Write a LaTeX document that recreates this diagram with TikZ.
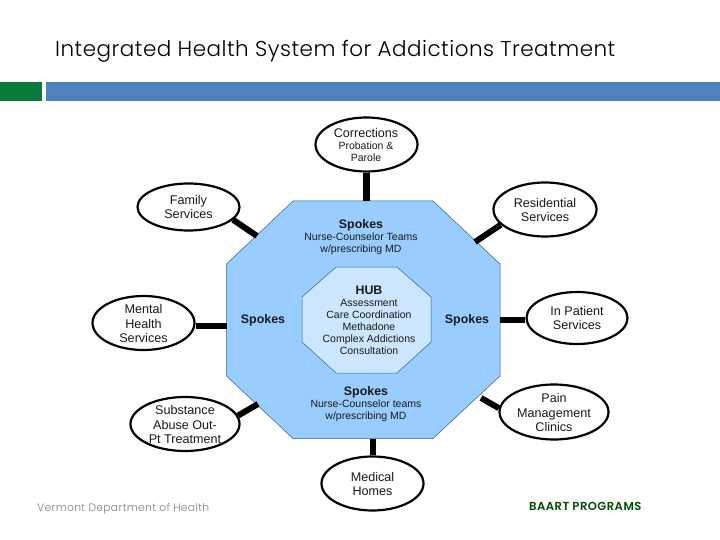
\documentclass[tikz,border=0pt]{standalone}
\usepackage{fontspec}
\setmainfont{Liberation Sans}
\newfontfamily\titlefont[LetterSpace=2.2]{Poppins Light}
\newfontfamily\footfont[LetterSpace=2.6]{Poppins Light}
\newfontfamily\boldfoot[LetterSpace=4]{Poppins SemiBold}
\usetikzlibrary{shapes.geometric}
\definecolor{barblue}{HTML}{4F81BD}
\definecolor{bargreen}{HTML}{0A7A3C}
\definecolor{outerfill}{HTML}{99CCFF}
\definecolor{innerfill}{HTML}{CCE6FF}
\definecolor{edgeblue}{HTML}{2F5F8F}
\definecolor{txt}{HTML}{1A1A1A}
\tikzset{
  svc/.style={ellipse,draw=black,line width=2.2pt,fill=white,inner sep=0pt},
  svctext/.style={align=center,inner sep=0pt,text=txt,font=\fontsize{12.6}{14.4}\selectfont},
  small/.style={align=center,inner sep=0pt,text=txt,font=\fontsize{10.5}{12}\selectfont},
  head/.style={align=center,inner sep=0pt,text=txt,font=\fontsize{12.4}{13}\selectfont\bfseries},
  link/.style={draw=black,line width=6pt},
  octa/.style={draw=edgeblue,line width=0.5pt}
}
\begin{document}
\begin{tikzpicture}[x=1pt,y=-1pt]
\useasboundingbox (0,0) rectangle (720,540);
\node[inner sep=0pt,anchor=base west,font=\titlefont\fontsize{21.5}{24}\selectfont] (title) at (55,57) {Integrated Health System for Addictions Treatment};
\fill[bargreen] (0,82) rectangle (42,101);
\fill[barblue] (46,82) rectangle (720,101);
% octagons
\filldraw[octa,fill=outerfill] (293,201) -- (433,201) -- (500,264) -- (500,376) -- (433,438.5) -- (293,438.5) -- (226.5,376) -- (226.5,264) -- cycle;
\filldraw[octa,fill=innerfill] (336,267) -- (397,267) -- (431,297) -- (431,342) -- (397,373) -- (336,373) -- (302,342) -- (302,297) -- cycle;
% connector ends on the octagon
\coordinate (eCorr) at (366,201);
\coordinate (eFam) at (257,236);
\coordinate (eRes) at (475,242);
\coordinate (eMen) at (226.5,325.5);
\coordinate (eInp) at (500,320);
\coordinate (eSub) at (258,404);
\coordinate (ePain) at (481,398);
\coordinate (eMed) at (372.5,438.5);
% service ellipses
\node[svc,minimum width=102pt,minimum height=54pt] (corr) at (366.5,144.5) {};
\node[svc,minimum width=102pt,minimum height=47pt] (fam) at (188.5,207) {};
\node[svc,minimum width=103pt,minimum height=54pt] (res) at (545,209.5) {};
\node[svc,minimum width=102pt,minimum height=54pt] (men) at (143.5,323) {};
\node[svc,minimum width=101pt,minimum height=52pt] (inp) at (577,318) {};
\node[svc,minimum width=109pt,minimum height=54pt] (sub) at (185,424) {};
\node[svc,minimum width=109pt,minimum height=55pt] (pain) at (554,412) {};
\node[svc,minimum width=102pt,minimum height=54pt] (med) at (372.5,483.5) {};
% connectors
\draw[link,line width=7pt] (corr.south -| eCorr) -- (eCorr);
\draw[link] (fam.-16) -- (eFam);
\draw[link] (res.199) -- (eRes);
\draw[link] (men.east |- eMen) -- (eMen);
\draw[link] (inp.west |- eInp) -- (eInp);
\draw[link] (sub.9) -- (eSub);
\draw[link] (pain.176) -- (ePain);
\draw[link] (med.north) -- (eMed);
% service labels
\node[svctext] at (366,132.6) {Corrections};
\node[small] at (366,152) {Probation \&\\Parole};
\node[svctext] at (188.5,207) {Family\\Services};
\node[svctext] at (545,210) {Residential\\Services};
\node[svctext] at (143.5,323.5) {Mental\\Health\\Services};
\node[svctext] at (577,318) {In Patient\\Services};
\node[svctext] at (185,424.5) {Substance\\Abuse Out-\\Pt Treatment};
\node[svctext] at (554,412.5) {Pain\\Management\\Clinics};
\node[svctext] at (372.5,484) {Medical\\Homes};
% hub labels
\node[head] at (361,225) {Spokes};
\node[small] at (361,243.5) {Nurse-Counselor Teams\\w/prescribing MD};
\node[head] at (369,290) {HUB};
\node[small] at (369,327) {Assessment\\Care Coordination\\Methadone\\Complex Addictions\\Consultation};
\node[head] at (263,320) {Spokes};
\node[head] at (467,320) {Spokes};
\node[head] at (366,392) {Spokes};
\node[small] at (366,410.5) {Nurse-Counselor teams\\w/prescribing MD};
% footer
\node[inner sep=0pt,anchor=base west,text=black!50,font=\footfont\fontsize{10.8}{13}\selectfont] (ftl) at (37,511) {Vermont Department of Health};
\node[inner sep=0pt,anchor=base west,text=green!30!black,font=\boldfoot\fontsize{11.6}{13}\selectfont] (ftr) at (529,510) {BAART PROGRAMS};
\end{tikzpicture}
\end{document}
